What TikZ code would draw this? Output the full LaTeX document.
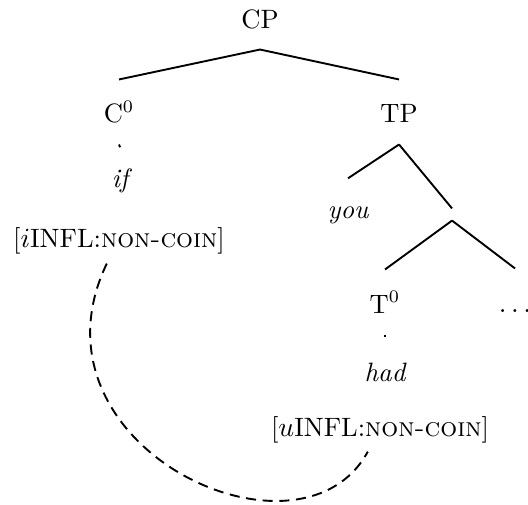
\documentclass[tikz,border=0pt]{standalone}
\usepackage{amsmath, amssymb}
\usepackage{tikz}
\usetikzlibrary{arrows.meta, positioning, calc}

\begin{document}
\begin{tikzpicture}[
      font=\fontsize{10.5pt}{12.6pt}\selectfont,
      cat/.style={anchor=base, text height=11pt, text depth=2.3pt,
        inner ysep=6pt, inner xsep=1pt},
      word/.style={cat, font=\fontsize{10.5pt}{12.6pt}\selectfont\itshape,
        inner ysep=4.5pt},
      feat/.style={anchor=base},
      branch/.style={line width=0.75pt}
    ]
    \useasboundingbox (0,0) rectangle (7.333,7);
    \node[cat] (cp) at (3.611, 6.611) {CP};
    \node[cat] (c0) at (1.653, 5.292) {C\(^0\)};
    \node[cat] (tp) at (5.542, 5.292) {TP};
    \node[word] (if) at (1.667, 4.403) {if};
    \node[feat] (fi) at (1.653, 3.556)
         {[\(i\)INFL:\textsc{non-coin}]};
    \node[word] (you) at (4.833, 3.972) {you};
    \node[inner sep=2.2pt] (tbar) at (6.278, 4.021) {};
    \node[cat] (t0) at (5.347, 2.653) {T\(^0\)};
    \node[cat] (rest) at (7.153, 2.667) {\(\ldots\)};
    \node[word, inner ysep=6.4pt] (had) at (5.347, 1.708) {had};
    \node[feat] (fu) at (5.278, 0.944)
         {[\(u\)INFL:\textsc{non-coin}]};
    \draw[branch] (cp.south) -- (c0.north);
    \draw[branch] (cp.south) -- (tp.north);
    \draw[branch] (tp.south) -- (you.north);
    \draw[branch] (tp.south) -- (tbar.north);
    \draw[branch] (tbar.south) -- (t0.north);
    \draw[branch] (tbar.south) -- (rest.north);
    \draw[branch] (c0.south) -- (if.north);
    \draw[branch] (t0.south) -- (had.north);
    \draw[line width=0.75pt, dash pattern=on 4pt off 2.6pt]
         ([xshift=-0.17cm]fi.south) .. controls +(-1.21,-2.53)
         and +(-0.944,-1.736) .. ([xshift=-0.17cm]fu.south);
  \end{tikzpicture}
\end{document}
